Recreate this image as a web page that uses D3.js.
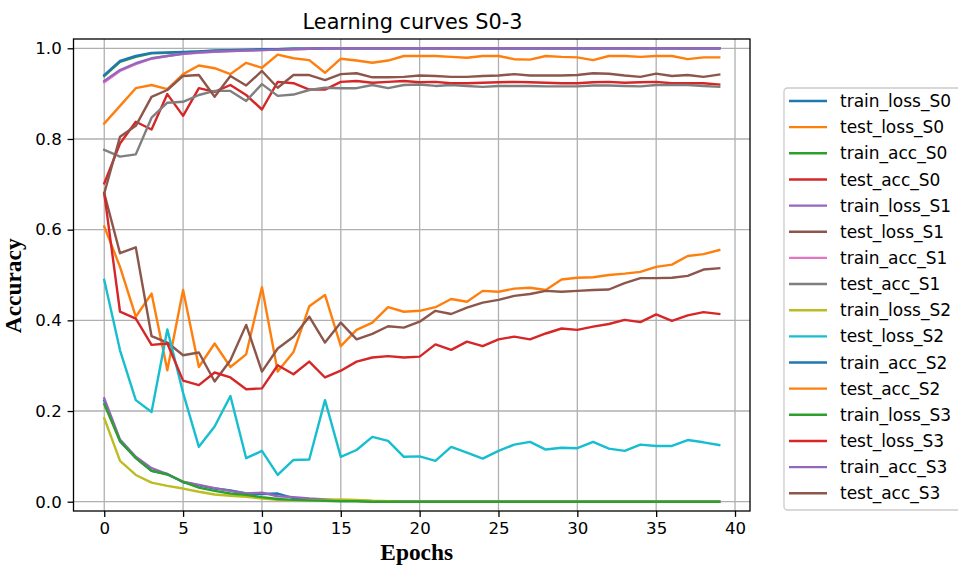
<!DOCTYPE html>
<html><head><meta charset="utf-8">
<script src="https://cdn.jsdelivr.net/npm/d3@7"></script>
<style>body{margin:0;background:#fff;} svg{display:block;}</style>
</head><body>
<svg id="chart" width="958" height="565"></svg>
<script>
const epochs = [0,1,2,3,4,5,6,7,8,9,10,11,12,13,14,15,16,17,18,19,20,21,22,23,24,25,26,27,28,29,30,31,32,33,34,35,36,37,38,39];

const train_loss_S0 = [0.223,0.133,0.097,0.068,0.061,0.043,0.036,0.029,0.025,0.018,
  0.017,0.018,0.008,0.005,0.004,0.003,0.002,0.001,0.001,0,
  0,0,0,0,0,0,0,0,0,0, 0,0,0,0,0,0,0,0,0,0];
const test_loss_S0 = [0.607,0.518,0.408,0.459,0.290,0.467,0.297,0.349,0.297,0.325,
  0.473,0.287,0.330,0.431,0.456,0.343,0.379,0.395,0.429,0.419,
  0.421,0.429,0.447,0.441,0.465,0.463,0.470,0.472,0.467,0.490,
  0.494,0.495,0.500,0.503,0.507,0.518,0.523,0.542,0.546,0.555];
const train_acc_S0 = [0.939,0.970,0.981,0.989,0.990,0.991,0.993,0.994,0.995,0.996,
  0.997,0.998,0.999,0.999,1,1,1,1,1,1, 1,1,1,1,1,1,1,1,1,1, 1,1,1,1,1,1,1,1,1,1];
const test_acc_S0 = [0.702,0.790,0.838,0.821,0.899,0.851,0.912,0.904,0.919,0.897,
  0.865,0.926,0.923,0.909,0.909,0.926,0.928,0.924,0.926,0.928,
  0.925,0.926,0.923,0.923,0.924,0.925,0.926,0.925,0.924,0.923,
  0.923,0.925,0.926,0.924,0.925,0.926,0.923,0.923,0.923,0.920];
const train_loss_S1 = [0.228,0.137,0.099,0.074,0.061,0.044,0.037,0.030,0.024,0.018,
  0.020,0.012,0.010,0.007,0.005,0.003,0.002,0.001,0.001,0,
  0,0,0,0,0,0,0,0,0,0, 0,0,0,0,0,0,0,0,0,0];
const test_loss_S1 = [0.680,0.548,0.561,0.365,0.351,0.323,0.329,0.265,0.312,0.390,
  0.287,0.338,0.364,0.408,0.351,0.395,0.358,0.370,0.387,0.384,
  0.397,0.421,0.414,0.428,0.439,0.445,0.454,0.458,0.465,0.463,
  0.465,0.467,0.468,0.482,0.493,0.493,0.494,0.498,0.512,0.515];
const train_acc_S1 = [0.925,0.950,0.965,0.977,0.983,0.988,0.990,0.992,0.994,0.995,
  0.996,0.997,0.998,0.999,1,1,1,1,1,1, 1,1,1,1,1,1,1,1,1,1, 1,1,1,1,1,1,1,1,1,1];
const test_acc_S1 = [0.776,0.761,0.766,0.847,0.880,0.882,0.897,0.906,0.906,0.884,
  0.921,0.895,0.898,0.908,0.913,0.912,0.912,0.919,0.912,0.919,
  0.920,0.917,0.919,0.917,0.915,0.917,0.917,0.917,0.916,0.916,
  0.916,0.918,0.918,0.917,0.916,0.919,0.919,0.919,0.917,0.915];
const train_loss_S2 = [0.184,0.090,0.059,0.042,0.035,0.029,0.022,0.016,0.013,0.011,
  0.007,0.004,0.003,0.003,0.004,0.005,0.004,0.002,0.001,0,
  0,0,0,0,0,0,0,0,0,0, 0,0,0,0,0,0,0,0,0,0];
const test_loss_S2 = [0.489,0.334,0.224,0.198,0.380,0.240,0.121,0.166,0.233,0.096,
  0.112,0.059,0.092,0.093,0.224,0.099,0.114,0.143,0.134,0.099,
  0.100,0.090,0.121,0.108,0.095,0.112,0.126,0.132,0.115,0.119,
  0.118,0.132,0.117,0.112,0.126,0.123,0.123,0.136,0.131,0.125];
const train_acc_S2 = [0.941,0.972,0.983,0.990,0.991,0.992,0.993,0.995,0.996,0.997,
  0.998,0.998,0.999,0.999,1,1,1,1,1,1, 1,1,1,1,1,1,1,1,1,1, 1,1,1,1,1,1,1,1,1,1];
const test_acc_S2 = [0.834,0.873,0.912,0.919,0.910,0.943,0.962,0.956,0.943,0.968,
  0.957,0.986,0.978,0.974,0.946,0.977,0.973,0.968,0.973,0.983,
  0.983,0.983,0.981,0.979,0.983,0.983,0.976,0.975,0.983,0.981,
  0.980,0.974,0.983,0.983,0.981,0.983,0.983,0.976,0.980,0.980];
const train_loss_S3 = [0.215,0.134,0.096,0.068,0.060,0.044,0.031,0.024,0.018,0.015,
  0.010,0.006,0.004,0.003,0.002,0.001,0.001,0,0,0,
  0,0,0,0,0,0,0,0,0,0, 0,0,0,0,0,0,0,0,0,0];
const test_loss_S3 = [0.680,0.419,0.404,0.346,0.349,0.267,0.257,0.285,0.274,0.248,
  0.250,0.301,0.281,0.309,0.274,0.289,0.309,0.318,0.321,0.318,
  0.320,0.347,0.335,0.353,0.343,0.358,0.364,0.358,0.371,0.382,
  0.379,0.386,0.392,0.401,0.396,0.413,0.399,0.411,0.418,0.414];
const train_acc_S3 = [0.928,0.952,0.967,0.978,0.983,0.988,0.991,0.993,0.994,0.995,
  0.996,0.997,0.998,0.999,1,1,1,1,1,1, 1,1,1,1,1,1,1,1,1,1, 1,1,1,1,1,1,1,1,1,1];
const test_acc_S3 = [0.680,0.805,0.829,0.893,0.908,0.939,0.941,0.893,0.939,0.918,
  0.950,0.913,0.941,0.941,0.930,0.943,0.945,0.936,0.936,0.937,
  0.940,0.939,0.937,0.937,0.939,0.940,0.943,0.940,0.940,0.940,
  0.941,0.945,0.944,0.940,0.937,0.944,0.939,0.941,0.937,0.942];

const seriesNames = ["train_loss_S0","test_loss_S0","train_acc_S0","test_acc_S0",
  "train_loss_S1","test_loss_S1","train_acc_S1","test_acc_S1",
  "train_loss_S2","test_loss_S2","train_acc_S2","test_acc_S2",
  "train_loss_S3","test_loss_S3","train_acc_S3","test_acc_S3"];
const seriesValues = [train_loss_S0,test_loss_S0,train_acc_S0,test_acc_S0,
  train_loss_S1,test_loss_S1,train_acc_S1,test_acc_S1,
  train_loss_S2,test_loss_S2,train_acc_S2,test_acc_S2,
  train_loss_S3,test_loss_S3,train_acc_S3,test_acc_S3];
const palette = ["#1f77b4","#ff7f0e","#2ca02c","#d62728","#9467bd","#8c564b","#e377c2","#7f7f7f","#bcbd22","#17becf"];
const xTickValues = [0,5,10,15,20,25,30,35,40];
const yTickValues = [0,0.2,0.4,0.6,0.8,1.0];
const yTickLabels = ["0.0","0.2","0.4","0.6","0.8","1.0"];
const titleText = "Learning curves S0-3";
const xLabelText = "Epochs";
const yLabelText = "Accuracy";

const svg = d3.select("#chart");
const L = 73.5, R = 750, T = 39, B = 511;
const x = d3.scaleLinear().domain([-1.95, 40.95]).range([L, R]);
const y = d3.scaleLinear().domain([-0.0205, 1.0205]).range([B, T]);

// grid
const grid = svg.append("g");
grid.selectAll("line.gx").data(xTickValues).enter().append("line")
  .attr("x1", d => x(d)).attr("x2", d => x(d)).attr("y1", T).attr("y2", B)
  .attr("stroke", "#b0b0b0").attr("stroke-width", 1.3);
grid.selectAll("line.gy").data(yTickValues).enter().append("line")
  .attr("y1", d => y(d)).attr("y2", d => y(d)).attr("x1", L).attr("x2", R)
  .attr("stroke", "#b0b0b0").attr("stroke-width", 1.3);

// lines
const line = d3.line().x((d, i) => x(epochs[i])).y(d => y(d));
seriesValues.forEach((vals, k) => {
  svg.append("path").datum(vals).attr("d", line)
    .attr("fill", "none").attr("stroke", palette[k % 10])
    .attr("stroke-width", 2.4).attr("stroke-linejoin", "round").attr("stroke-linecap", "square");
});

// axes
const xAxis = svg.append("g").attr("transform", `translate(0,${B})`)
  .call(d3.axisBottom(x).tickValues(xTickValues).tickFormat(d3.format("d")).tickSize(5.9).tickPadding(5.5));
const yAxis = svg.append("g").attr("transform", `translate(${L},0)`)
  .call(d3.axisLeft(y).tickValues(yTickValues).tickFormat((d, i) => yTickLabels[i]).tickSize(5.9).tickPadding(5.9));
[xAxis, yAxis].forEach(a => {
  a.select(".domain").remove();
  a.selectAll(".tick line").attr("stroke", "#000").attr("stroke-width", 1.3);
  a.selectAll(".tick text").attr("fill", "#000")
    .style("font-family", "'DejaVu Sans', sans-serif").style("font-size", "16.6px");
});

// spines
svg.append("rect").attr("x", L).attr("y", T).attr("width", R - L).attr("height", B - T)
  .attr("fill", "none").attr("stroke", "#000").attr("stroke-width", 1.3);

// title and labels
svg.append("text").attr("x", 412.5).attr("y", 29).attr("text-anchor", "middle")
  .style("font-family", "'DejaVu Sans', sans-serif").style("font-size", "20.8px").attr("fill", "#000")
  .text(titleText);
svg.append("text").attr("x", 416.7).attr("y", 560).attr("text-anchor", "middle")
  .style("font-family", "'Liberation Serif', 'Times New Roman', serif").style("font-weight", "bold")
  .style("font-size", "23.4px").attr("fill", "#000").text(xLabelText);
svg.append("text").attr("transform", "translate(20.5,285.8) rotate(-90)").attr("text-anchor", "middle")
  .style("font-family", "'Liberation Serif', 'Times New Roman', serif").style("font-weight", "bold")
  .style("font-size", "23.4px").attr("fill", "#000").text(yLabelText);

// legend
const lg = svg.append("g");
lg.append("rect").attr("x", 784).attr("y", 88).attr("width", 190).attr("height", 422)
  .attr("rx", 3.5).attr("fill", "#fff").attr("fill-opacity", 0.8)
  .attr("stroke", "#cccccc").attr("stroke-width", 1.3);
seriesNames.forEach((name, k) => {
  const cy = 101 + k * 26.15;
  lg.append("line").attr("x1", 789).attr("x2", 827).attr("y1", cy).attr("y2", cy)
    .attr("stroke", palette[k % 10]).attr("stroke-width", 2.4);
  lg.append("text").attr("x", 840).attr("y", cy).attr("dy", "0.36em")
    .style("font-family", "'DejaVu Sans', sans-serif").style("font-size", "17px").attr("fill", "#000")
    .text(name);
});
</script>
</body></html>
